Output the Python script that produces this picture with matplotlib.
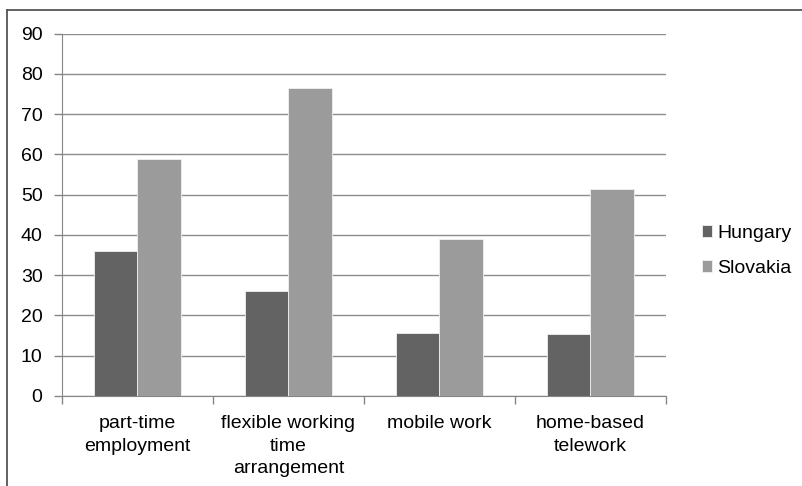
import matplotlib
matplotlib.use("Agg")
import matplotlib.pyplot as plt
import numpy as np
from matplotlib.lines import Line2D

plt.rcParams["font.family"] = ["Liberation Sans", "DejaVu Sans"]

categories = ["part-time\nemployment", "flexible working\ntime\narrangement",
              "mobile work", "home-based\ntelework"]
hungary = [35.9, 26.0, 15.6, 15.3]
slovakia = [58.9, 76.4, 39.1, 51.4]
y_ticks = list(range(0, 100, 10))

fig = plt.figure(figsize=(8.03, 4.86), dpi=100)
ax = fig.add_axes([62 / 803, 1 - 396 / 486, 604 / 803, 362.5 / 486])

x = np.arange(len(categories))
width = 0.285
ax.bar(x - width / 2, hungary, width, color="#636363", edgecolor="#f0f0f0",
       linewidth=0.6, label="Hungary", zorder=3)
ax.bar(x + width / 2, slovakia, width, color="#9b9b9b", edgecolor="#f0f0f0",
       linewidth=0.6, label="Slovakia", zorder=3)

ax.set_xlim(-0.5, len(categories) - 0.5)
ax.set_ylim(0, 90)
ax.set_yticks(y_ticks)
ax.set_xticks(x)
ax.set_xticklabels(categories, fontsize=14, linespacing=1.4)
ax.set_xticks(np.arange(len(categories) + 1) - 0.5, minor=True)
ax.tick_params(axis="x", which="major", length=0, pad=14)
ax.tick_params(axis="x", which="minor", length=6, color="#868686", width=1)
ax.tick_params(axis="y", length=6, color="#868686", width=1, labelsize=14, pad=8)
ax.yaxis.grid(True, color="#8c8c8c", linewidth=1)
ax.set_axisbelow(True)
for side in ("top", "right"):
    ax.spines[side].set_visible(False)
for side in ("left", "bottom"):
    ax.spines[side].set_color("#868686")

ax.legend(loc="center left", bbox_to_anchor=(1.03, 0.40), frameon=False,
          fontsize=14, handlelength=0.55, handleheight=0.55, handletextpad=0.25,
          labelspacing=0.95)

# outer chart frame, only top and left edge are visible in the crop
fig.add_artist(Line2D([7 / 803, 7 / 803], [0, 1 - 10 / 486],
                      transform=fig.transFigure, color="#555555", linewidth=1.3))
fig.add_artist(Line2D([7 / 803, 1], [1 - 10 / 486, 1 - 10 / 486],
                      transform=fig.transFigure, color="#555555", linewidth=1.3))

fig.savefig("out.png", dpi=100, facecolor="white")
